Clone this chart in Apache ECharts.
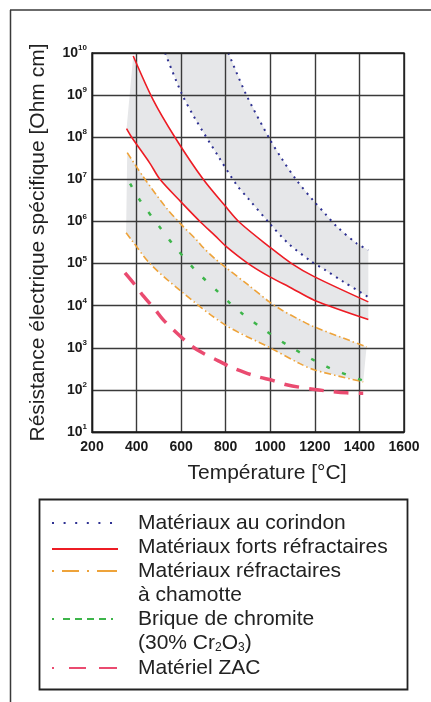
<!DOCTYPE html>
<html><head><meta charset="utf-8">
<script src="https://cdn.jsdelivr.net/npm/echarts@6/dist/echarts.min.js"></script>
<style>html,body{margin:0;padding:0;background:#fff}#c{width:431px;height:702px}</style>
</head><body><div id="c"></div>
<script>
// Température [°C] , Résistance [Ohm cm]
const corindonHaut = [[812,1e10],[891,1.05e9],[996,9.3e7],[1048,3.3e7],[1118,9.5e6],[1197,2.95e6],[1245,1.55e6],[1298,7.6e5],[1388,3.0e5],[1440,2.1e5]];
const corindonBas = [[528,1e10],[602,1.1e9],[662,2.8e8],[767,3.5e7],[849,7.4e6],[901,3.5e6],[996,9.1e5],[1081,3.0e5],[1186,1.1e5],[1245,7.1e4],[1328,3.7e4],[1440,1.6e4]];
const fortsHaut = [[385,8.5e9],[475,7.6e8],[572,1e8],[699,1e7],[797,2.35e6],[864,9.3e5],[996,2.5e5],[1096,1e5],[1197,4.9e4],[1440,1.23e4]];
const fortsBas = [[355,1.6e8],[378,1e8],[460,2.4e7],[505,1e7],[598,2.95e6],[690,9.3e5],[752,4.6e5],[800,2.6e5],[901,1e5],[996,4.9e4],[1096,2.6e4],[1197,1.35e4],[1440,4.7e3]];
const chamotteHaut = [[358,4.3e7],[430,1.15e7],[535,2.05e6],[602,8.3e5],[670,3.6e5],[699,2.4e5],[752,1.3e5],[800,8.1e4],[901,3.1e4],[996,1.23e4],[1051,7.9e3],[1133,4.6e3],[1193,3.2e3],[1432,1.05e3]];
const chamotteBas = [[353,5.4e5],[378,3.6e5],[460,1e5],[595,2.3e4],[797,3.5e3],[999,1e3],[1133,420],[1200,295],[1417,155]];
const chromite = [[371,7.9e6],[415,3.2e6],[513,6.3e5],[560,3.0e5],[662,7.1e4],[767,2.1e4],[819,1.15e4],[872,6.6e3],[976,2.6e3],[1088,1.07e3],[1253,355],[1417,166]];
const zac = [[348,6.0e4],[393,3.1e4],[430,1.7e4],[483,8.1e3],[520,4.6e3],[595,1.9e3],[647,1.1e3],[699,740],[767,490],[819,355],[887,257],[946,204],[1014,166],[1073,132],[1200,102],[1343,85],[1417,83]];

const legendLabels = ['Matériaux au corindon','Matériaux forts réfractaires','Matériaux réfractaires','à chamotte','Brique de chromite','(30% Cr{sub|2}O{sub|3})','Matériel ZAC'];
const xTitle = 'Température [°C]';
const yTitle = 'Résistance électrique spécifique [Ohm cm]';

const C_NAVY = '#2e3192', C_RED = '#ed1c24', C_ORANGE = '#eea33a', C_GREEN = '#3db54a', C_PINK = '#ea4b70', C_BAND = '#e6e7e9';
const FONT = '"Liberation Sans", Arial, sans-serif';

function band(upper, lower) {
  return {
    type: 'custom', z: -1, silent: true, clip: true, data: [0],
    renderItem: function (params, api) {
      const pts = upper.map(p => api.coord(p)).concat(lower.slice().reverse().map(p => api.coord(p)));
      return { type: 'polygon', shape: { points: pts }, style: { fill: C_BAND } };
    }
  };
}
function line(data, color, width, dash) {
  return {
    type: 'line', data: data, smooth: 0.3, symbol: 'none', silent: true, z: 3,
    lineStyle: { color: color, width: width, type: dash || 'solid', cap: 'butt' }
  };
}

const chart = echarts.init(document.getElementById('c'), null, { renderer: 'canvas' });
const legX1 = 52, legX2 = 118, legTextX = 138;
const legRows = [523, 547, 571, 595, 619, 643, 668];
const legendGraphic = [
  { type: 'rect', shape: { x: 39.5, y: 499.5, width: 368, height: 190 }, style: { fill: 'none', stroke: '#222', lineWidth: 1.8 } },
  { type: 'line', shape: { x1: legX1, y1: legRows[0], x2: legX2, y2: legRows[0] }, style: { stroke: C_NAVY, lineWidth: 2.2, lineDash: [2, 9.6] } },
  { type: 'line', shape: { x1: legX1, y1: legRows[1] + 2, x2: legX2, y2: legRows[1] + 2 }, style: { stroke: C_RED, lineWidth: 2 } },
  { type: 'line', shape: { x1: legX1, y1: legRows[2], x2: legX2, y2: legRows[2] }, style: { stroke: C_ORANGE, lineWidth: 2, lineDash: [2, 8, 17, 8, 2, 8, 20] } },
  { type: 'line', shape: { x1: legX1, y1: legRows[4], x2: legX2, y2: legRows[4] }, style: { stroke: C_GREEN, lineWidth: 2, lineDash: [2, 9, 7, 5, 7, 5, 7, 5, 7, 5] } },
  { type: 'line', shape: { x1: legX1, y1: legRows[6], x2: legX2, y2: legRows[6] }, style: { stroke: C_PINK, lineWidth: 2.2, lineDash: [2, 15, 17, 13, 18] } },
  { type: 'line', shape: { x1: 10, y1: 10, x2: 431, y2: 10 }, style: { stroke: '#3a3a3a', lineWidth: 1.5 } },
  { type: 'line', shape: { x1: 10.5, y1: 10, x2: 10.5, y2: 702 }, style: { stroke: '#3a3a3a', lineWidth: 1.5 } }
];
legendLabels.forEach((t, i) => {
  legendGraphic.push({
    type: 'text', x: legTextX, y: legRows[i],
    style: {
      text: t, fill: '#222', fontSize: 21, fontFamily: FONT, verticalAlign: 'middle', align: 'left',
      rich: { sub: { fontSize: 12, fontFamily: FONT, fill: '#222', verticalAlign: 'bottom', lineHeight: 8 } }
    }
  });
});

chart.setOption({
  animation: false,
  backgroundColor: '#fff',
  grid: { left: 92, top: 53, width: 312, height: 379, show: true, borderColor: '#1a1a1a', borderWidth: 1.4, backgroundColor: 'transparent', z: 5 },
  xAxis: {
    type: 'value', min: 200, max: 1600, interval: 200,
    name: xTitle, nameLocation: 'middle', nameGap: 31, nameMoveOverlap: false,
    nameTextStyle: { fontSize: 21, fontFamily: FONT, color: '#222', padding: [0, 0, 0, 38] },
    axisLine: { show: true, lineStyle: { color: '#1a1a1a', width: 1.4 } },
    axisTick: { show: false },
    axisLabel: { margin: 8, fontSize: 14, fontWeight: 'bold', fontFamily: FONT, color: '#1a1a1a', formatter: function (v) { return String(v); } },
    splitLine: { show: true, lineStyle: { color: '#3a3a3a', width: 1.4 } }
  },
  yAxis: {
    type: 'log', logBase: 10, min: 10, max: 1e10, splitNumber: 9,
    name: yTitle, nameLocation: 'middle', nameGap: 43, nameMoveOverlap: false,
    nameTextStyle: { fontSize: 21, fontFamily: FONT, color: '#222' },
    axisLine: { show: true, lineStyle: { color: '#1a1a1a', width: 1.4 } },
    axisTick: { show: false },
    axisLabel: {
      margin: 5, fontFamily: FONT, color: '#1a1a1a',
      formatter: function (v) { return '{b|10}{s|' + Math.round(Math.log10(v)) + '}'; },
      rich: {
        b: { fontSize: 14, fontWeight: 'bold', fontFamily: FONT, color: '#1a1a1a', lineHeight: 18 },
        s: { fontSize: 8, fontWeight: 'bold', fontFamily: FONT, color: '#1a1a1a', lineHeight: 12, verticalAlign: 'top' }
      }
    },
    splitLine: { show: true, lineStyle: { color: '#3a3a3a', width: 1.4 } }
  },
  graphic: legendGraphic,
  series: [
    band(corindonHaut, corindonBas),
    band(fortsHaut, fortsBas),
    band(chamotteHaut, chamotteBas),
    line(corindonHaut, C_NAVY, 2, [2, 5]),
    line(corindonBas, C_NAVY, 2, [2, 5]),
    line(fortsHaut, C_RED, 1.6),
    line(fortsBas, C_RED, 1.6),
    line(chamotteHaut, C_ORANGE, 1.6, [7, 3, 1.5, 3]),
    line(chamotteBas, C_ORANGE, 1.6, [7, 3, 1.5, 3]),
    line(chromite, C_GREEN, 2.5, [4, 13]),
    line(zac, C_PINK, 3.5, [15, 10])
  ]
});
</script></body></html>
